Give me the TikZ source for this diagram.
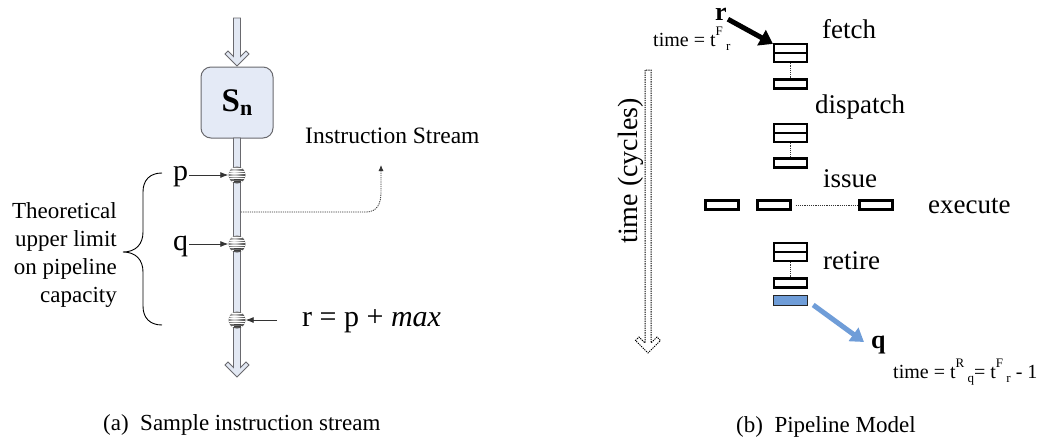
\documentclass[tikz,border=0pt]{standalone}
\usepackage{fontspec}
\setmainfont{Liberation Serif}
\usetikzlibrary{arrows.meta,calc}

\definecolor{pipefill}{RGB}{226,232,243}
\definecolor{pipeedge}{RGB}{105,105,110}
\definecolor{boxfill}{RGB}{228,234,246}
\definecolor{qblue}{RGB}{111,157,216}

\newcommand{\fs}[2]{\fontsize{#1}{#2}\selectfont}

\tikzset{
  pipebody/.style={fill=pipefill, draw=pipeedge, line width=0.9pt, line join=miter},
  sbox/.style={rectangle, rounded corners=10pt, draw=pipeedge, line width=1pt, fill=boxfill,
    minimum width=72pt, minimum height=71pt, inner sep=0pt},
  marker/.style={circle, minimum size=17pt, inner sep=0pt, ball color=gray!60,
    path picture={
      \foreach \d in {-6,-3.5,...,6.5}
        \draw[white, line width=0.6pt] ([yshift=\d pt]path picture bounding box.west) -- ([yshift=\d pt]path picture bounding box.east);
      \draw[black!75, line width=0.8pt] ([yshift=-4.5pt,xshift=-3.5pt]path picture bounding box.center) -- ++(7pt,0);
      \draw[black!75, line width=0.8pt] ([yshift=-6.5pt,xshift=-3.5pt]path picture bounding box.center) -- ++(7pt,0);
    }},
  ptr/.style={draw=black!80, line width=0.8pt, -{Latex[length=8pt,width=6pt]}},
  lbl/.style={inner sep=0pt, anchor=base west},
  slot/.style={rectangle, draw=black, line width=2.2pt, fill=white, inner sep=0pt,
    minimum width=33pt, minimum height=9pt},
  bslot/.style={rectangle, draw=black!85, line width=0.9pt, fill=qblue, inner sep=0pt,
    minimum width=34.5pt, minimum height=10pt},
  link/.style={draw=black!80, dash pattern=on 1.2pt off 1pt, line width=0.8pt},
  stage/.style={lbl, font=\fs{27}{30}},
}

\begin{document}
\begin{tikzpicture}[x=1pt,y=-1pt]
\useasboundingbox (0,0) rectangle (1045,445);

% ---------------- (a) sample instruction stream ----------------
% incoming hollow arrow
\path[pipebody] (233.5,18) -- (233.5,56.5) -- (228,51) -- (225,54) -- (237,66) -- (249,54) -- (246,51) -- (240.5,56.5) -- (240.5,18) -- cycle;
% stage box
\node[sbox] (sn) at (237,102.5) {{\fs{33}{36}\bfseries S}\raisebox{-4pt}{\fs{22}{24}\bfseries n}};
% the instruction pipe leaving the stage
\path[pipebody] (233.5,138) -- (233.5,367.5) -- (228,362) -- (225,365) -- (237,377) -- (249,365) -- (246,362) -- (240.5,367.5) -- (240.5,138) -- cycle;

% instructions on the stream
\node[marker] (mp) at (237,175) {};
\node[marker] (mq) at (237,244) {};
\node[marker] (mr) at (237,320) {};

\node[lbl, font=\fs{30}{33}] (ptxt) at (173,180) {p};
\node[lbl, font=\fs{30}{33}] (qtxt) at (173,250) {q};
\node[lbl, font=\fs{30}{33}] (rtxt) at (302,326) {r = p + \textit{max}};

\draw[ptr] (ptxt.east |- mp.west) ++(1,0) -- (mp.west);
\draw[ptr] (qtxt.east |- mq.west) ++(1,0) -- (mq.west);
\draw[ptr] ([xshift=-25pt]rtxt.west |- mr.east) -- (mr.east);

% label of the stream
\node[lbl, font=\fs{23.5}{26}] (istxt) at (305,143) {Instruction Stream};
\coordinate (tap) at (241,212);
\coordinate (istip) at (381,165);
\draw[link, -{Latex[length=6pt,width=5pt]}] (tap) -- (366,212) .. controls (377,212) and (381,204) .. (381,192) -- (istip);

% capacity brace
\coordinate (btop) at (162,173);
\coordinate (bbot) at (162,325);
\coordinate (btip) at (123,252);
\draw[line width=0.9pt] (btop) .. controls (150,173) and (143,180) .. (143,192)
  -- (143,232) .. controls (143,244) and (136,252) .. (btip)
  .. controls (136,252) and (143,260) .. (143,272)
  -- (143,306) .. controls (143,318) and (150,325) .. (bbot);
\node[inner sep=0pt, anchor=east, align=right, font=\fs{23}{28.3}] (theo) at (117,255)
  {Theoretical\\upper limit\\on pipeline\\capacity};

\node[lbl, font=\fs{23}{26}] (capa) at (103,430) {(a)\enspace Sample instruction stream};

% ---------------- (b) pipeline model ----------------
% time axis (dotted hollow arrow)
\draw[black, dash pattern=on 1.3pt off 1pt, line width=1pt] (645,70) -- (645,343) -- (639,337) -- (635.5,340.5) -- (648,353) -- (660.5,340.5) -- (657,337) -- (651,343) -- (651,70) -- cycle;
\node[inner sep=0pt, anchor=base, rotate=90, font=\fs{28}{30}] (taxis) at (637,171) {time (cycles)};

% fetch
\node[slot] (f1) at (790.5,48.5) {};
\node[slot] (f2) at (790.5,57.5) {};
\node[slot] (f3) at (790.5,84) {};
\draw[link] (f2.south) -- (f3.north);
\node[stage] (lfetch) at (822,38) {fetch};

% dispatch
\node[slot] (d1) at (790.5,128.5) {};
\node[slot] (d2) at (790.5,137.5) {};
\node[slot] (d3) at (790.5,163) {};
\draw[link] (d2.south) -- (d3.north);
\node[stage] (ldisp) at (815,113) {dispatch};

% issue / execute
\node[stage] (lissue) at (823,187) {issue};
\node[slot] (e1) at (722,205) {};
\node[slot] (e2) at (774,205) {};
\node[slot] (e3) at (876,205) {};
\draw[link] ([xshift=4pt]e2.east) -- (e3.west);
\node[stage] (lexec) at (928,213) {execute};

% retire
\node[slot] (t1) at (790.5,247.5) {};
\node[slot] (t2) at (790.5,256.5) {};
\node[slot] (t3) at (790.5,283) {};
\node[bslot] (t4) at (790.5,300.5) {};
\draw[link] (t2.south) -- (t3.north);
\node[stage] (lret) at (823,269) {retire};

% instruction r entering fetch
\node[lbl, font=\fs{26}{28}\bfseries] (rlbl) at (715,20) {r};
\node[lbl, font=\fs{20}{22}] (rtime) at (653,46) {time = t\raisebox{0.55em}{\fs{13}{14}F}\,\raisebox{-0.2em}{\fs{13}{14}r}};
\draw[line width=5pt, -{Triangle[length=13pt,width=17pt]}] ([xshift=1pt,yshift=1pt]rlbl.south east) -- ([shift={(0,1)}]f1.north west);

% instruction q leaving retire
\node[lbl, font=\fs{26}{28}\bfseries] (qlbl) at (871,348) {q};
\coordinate (qtip) at (864,342);
\draw[qblue, line width=5pt, -{Triangle[length=13pt,width=16pt]}] ([shift={(5,-1)}]t4.south east) -- (qtip);
\node[lbl, font=\fs{20}{22}] (qtime) at (893,378) {time = t\raisebox{0.55em}{\fs{13}{14}R}\,\raisebox{-0.2em}{\fs{13}{14}q}= t\raisebox{0.55em}{\fs{13}{14}F}\,\raisebox{-0.2em}{\fs{13}{14}r} - 1};

\node[lbl, font=\fs{23}{26}] (capb) at (736,432) {(b)\enspace Pipeline Model};
\end{tikzpicture}
\end{document}
